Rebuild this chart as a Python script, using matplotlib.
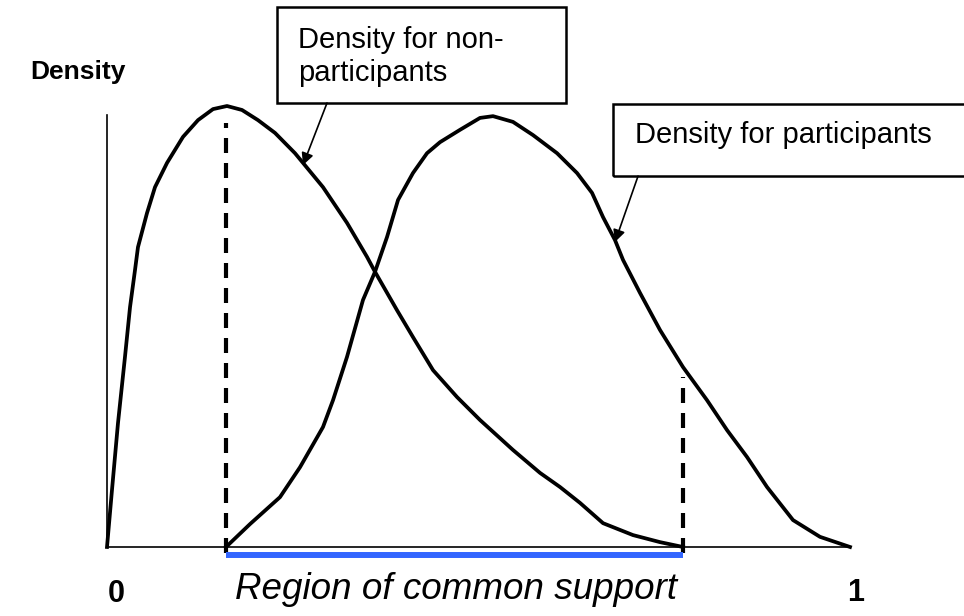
import matplotlib
matplotlib.use('Agg')
import matplotlib.pyplot as plt
from matplotlib.patches import Rectangle

plt.rcParams['font.family'] = ['Liberation Sans', 'DejaVu Sans']

# propensity score (0..1) and density (peak = 1)
nonpart_x = [0.0, 0.0067, 0.0148, 0.0242, 0.031, 0.0377, 0.0417, 0.0538, 0.0646, 0.0808,
             0.1023, 0.1225, 0.1427, 0.1615, 0.1817, 0.2032, 0.2261, 0.253, 0.2638, 0.2907,
             0.323, 0.3499, 0.3607, 0.3903, 0.4118, 0.4388, 0.4711, 0.502, 0.5464, 0.5828,
             0.6097, 0.6366, 0.6676, 0.7079, 0.7443, 0.7752]
nonpart_y = [0.0, 0.129, 0.281, 0.431, 0.544, 0.628, 0.680, 0.757, 0.816, 0.871,
             0.930, 0.968, 0.993, 1.0, 0.991, 0.968, 0.939, 0.893, 0.871, 0.816,
             0.735, 0.658, 0.624, 0.537, 0.476, 0.401, 0.340, 0.288, 0.220, 0.168,
             0.136, 0.100, 0.054, 0.027, 0.011, 0.0]

part_x = [0.1602, 0.1925, 0.2328, 0.2598, 0.2907, 0.3042, 0.323, 0.3445, 0.3607, 0.3769,
          0.3917, 0.4118, 0.4307, 0.4482, 0.4751, 0.502, 0.5195, 0.5464, 0.5734, 0.6057,
          0.6326, 0.6528, 0.6676, 0.6837, 0.6945, 0.7174, 0.7443, 0.7752, 0.8075, 0.8345,
          0.8614, 0.8883, 0.9233, 0.9596, 1.0]
part_y = [0.0, 0.052, 0.113, 0.181, 0.272, 0.333, 0.431, 0.560, 0.624, 0.703,
          0.787, 0.848, 0.893, 0.918, 0.946, 0.973, 0.977, 0.964, 0.934, 0.893,
          0.848, 0.803, 0.748, 0.696, 0.651, 0.576, 0.492, 0.408, 0.333, 0.265,
          0.204, 0.136, 0.061, 0.023, 0.0]

# common support bounds
support_lo = 0.1602
support_hi = 0.7752

fig = plt.figure(figsize=(9.64, 6.16), dpi=100)
ax = fig.add_axes([0, 0, 1, 1])
ax.set_xlim(-0.144, 1.1534)
ax.set_ylim(-0.1565, 1.2404)
ax.axis('off')

# axes lines
ax.plot([0, 0], [0, 0.98], color='black', lw=1.2)
ax.plot([0, 1.0], [0, 0], color='black', lw=1.2)

# density curves
ax.plot(nonpart_x, nonpart_y, color='black', lw=2.7, solid_joinstyle='round')
ax.plot(part_x, part_y, color='black', lw=2.7, solid_joinstyle='round')

# dashed support bounds
ax.plot([support_lo, support_lo], [-0.014, 0.961], color='black', lw=3, dashes=(3.6, 2.4))
ax.plot([support_hi, support_hi], [-0.014, 0.385], color='black', lw=3, dashes=(3.6, 2.4))

# region of common support
ax.plot([support_lo, support_hi], [-0.018, -0.018], color='#3366ff', lw=4.3, solid_capstyle='butt')

# label boxes
ax.add_patch(Rectangle((0.2288, 1.0068), 0.389, 0.2177, fill=False, edgecolor='black', lw=1.8))
ax.add_patch(Rectangle((0.681, 0.841), 0.6, 0.1635, fill=False, edgecolor='black', lw=1.8,
                       clip_on=False))

ax.text(0.257, 1.1315, 'Density for non-', fontsize=21, ha='left', va='baseline')
ax.text(0.257, 1.0567, 'participants', fontsize=21, ha='left', va='baseline')
ax.text(0.7106, 0.916, 'Density for participants', fontsize=21, ha='left', va='baseline')

ax.annotate('', xy=(0.2638, 0.866), xytext=(0.2961, 1.0068),
            arrowprops=dict(arrowstyle='-|>', color='black', lw=1.2, mutation_scale=18,
                            shrinkA=0, shrinkB=0))
ax.annotate('', xy=(0.6837, 0.6916), xytext=(0.7147, 0.841),
            arrowprops=dict(arrowstyle='-|>', color='black', lw=1.2, mutation_scale=18,
                            shrinkA=0, shrinkB=0))

ax.text(-0.039, 1.077, 'Density', fontsize=19, fontweight='bold', ha='center', va='center')
ax.text(0.0121, -0.1247, '0', fontsize=22, fontweight='bold', ha='center', va='baseline')
ax.text(1.008, -0.1224, '1', fontsize=22, fontweight='bold', ha='center', va='baseline')
ax.text(0.1723, -0.118, 'Region of common support', fontsize=26.5, style='italic',
        ha='left', va='baseline')

fig.savefig('out.png', dpi=100)
